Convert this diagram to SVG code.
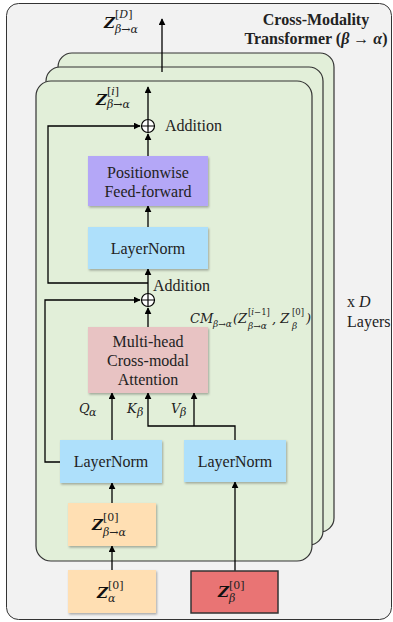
<svg xmlns="http://www.w3.org/2000/svg" width="393" height="622" viewBox="0 0 393 622">
<defs>
<marker id="ah" viewBox="0 0 10 10" refX="9" refY="5" markerWidth="7" markerHeight="7" orient="auto-start-reverse" markerUnits="userSpaceOnUse"><path d="M0,0 L10,5 L0,10 z" fill="#000"/></marker>
<filter id="sh" x="-10%" y="-10%" width="130%" height="140%"><feDropShadow dx="1" dy="1.5" stdDeviation="1" flood-color="#000" flood-opacity="0.3"/></filter>
<style>
.t{font-family:"Liberation Serif","Times New Roman",serif;font-size:16px;fill:#222;}
.tb{font-family:"Liberation Serif","Times New Roman",serif;font-size:16px;font-weight:bold;fill:#222;}
.m{font-family:"DejaVu Serif","Liberation Serif",serif;font-style:italic;font-size:13px;fill:#222;}
.zb{font-family:"DejaVu Serif","Liberation Serif",serif;font-style:italic;font-weight:bold;font-size:15px;fill:#111;}
.sup{font-style:normal;font-weight:normal;font-size:11px;fill:#222;}
.sub{font-style:italic;font-weight:normal;font-size:11px;fill:#222;}
.s9{font-size:9px;}
.s85{font-size:8.5px;}
.ln{stroke:#000;stroke-width:1.3;fill:none;}
.layer{fill:#e2efd9;stroke:#333;stroke-width:1.2;}
.box{filter:url(#sh);}
</style>
</defs>
<rect x="6.5" y="3.5" width="385" height="616" rx="12" fill="#f2f2f2" stroke="#333" stroke-width="1"/>
<g id="title">
<text class="tb" x="316" y="25" text-anchor="middle">Cross-Modality</text>
<text class="tb" x="316" y="44" text-anchor="middle">Transformer (<tspan font-style="italic">β</tspan> → <tspan font-style="italic">α</tspan>)</text>
</g>
<g id="layers">
<rect class="layer" x="58" y="53" width="276" height="479" rx="14"/>
<rect class="layer" x="46" y="67" width="277" height="478" rx="14"/>
<rect class="layer" x="36" y="81" width="276" height="480" rx="15"/>
</g>
<g id="connectors">
<line class="ln" x1="162" y1="72" x2="162" y2="19" marker-end="url(#ah)"/>
<line class="ln" x1="148" y1="119" x2="148" y2="87" marker-end="url(#ah)"/>
<polyline class="ln" points="148,283 48,283 48,126 140,126" marker-end="url(#ah)"/>
<line class="ln" x1="148" y1="156" x2="148" y2="134" marker-end="url(#ah)"/>
<line class="ln" x1="148" y1="227" x2="148" y2="206" marker-end="url(#ah)"/>
<line class="ln" x1="148" y1="293" x2="148" y2="269" marker-end="url(#ah)"/>
<polyline class="ln" points="60,462 45,462 45,300 140,300" marker-end="url(#ah)"/>
<line class="ln" x1="148" y1="327" x2="148" y2="308" marker-end="url(#ah)"/>
<line class="ln" x1="112" y1="440" x2="112" y2="393" marker-end="url(#ah)"/>
<polyline class="ln" points="235,440 235,426 148,426 148,393" marker-end="url(#ah)"/>
<line class="ln" x1="194" y1="426" x2="194" y2="393" marker-end="url(#ah)"/>
<line class="ln" x1="112" y1="503" x2="112" y2="483" marker-end="url(#ah)"/>
<line class="ln" x1="112" y1="570" x2="112" y2="546" marker-end="url(#ah)"/>
<line class="ln" x1="235" y1="571" x2="235" y2="482" marker-end="url(#ah)"/>
</g>
<g id="add1">
<circle cx="148" cy="126" r="6.5" fill="#fff" stroke="#000" stroke-width="1.2"/>
<path d="M141.5,126 H154.5 M148,119.5 V132.5" stroke="#000" stroke-width="1.2"/>
<text class="t" x="165" y="131">Addition</text>
</g>
<g id="add2">
<circle cx="148" cy="300" r="6.5" fill="#fff" stroke="#000" stroke-width="1.2"/>
<path d="M141.5,300 H154.5 M148,293.5 V306.5" stroke="#000" stroke-width="1.2"/>
<text class="t" x="153" y="291">Addition</text>
</g>
<g id="ff">
<rect class="box" x="88" y="156" width="120" height="50" fill="#b4a7f7"/>
<text class="t" x="148" y="178" text-anchor="middle">Positionwise</text>
<text class="t" x="148" y="197" text-anchor="middle">Feed-forward</text>
</g>
<g id="ln-top">
<rect class="box" x="88" y="227" width="120" height="42" fill="#aee0fb"/>
<text class="t" x="148" y="254" text-anchor="middle">LayerNorm</text>
</g>
<g id="mha">
<rect class="box" x="88" y="327" width="120" height="66" fill="#e8c3c3"/>
<text class="t" x="148" y="347" text-anchor="middle">Multi-head</text>
<text class="t" x="148" y="366" text-anchor="middle">Cross-modal</text>
<text class="t" x="148" y="385" text-anchor="middle">Attention</text>
</g>
<g id="ln-left">
<rect class="box" x="60" y="440" width="102" height="43" fill="#aee0fb"/>
<text class="t" x="111" y="467" text-anchor="middle">LayerNorm</text>
</g>
<g id="ln-right">
<rect class="box" x="184" y="440" width="102" height="42" fill="#aee0fb"/>
<text class="t" x="235" y="467" text-anchor="middle">LayerNorm</text>
</g>
<g id="z0ba">
<rect class="box" x="68" y="503" width="88" height="43" fill="#ffdfb3"/>
<text class="zb" x="92" y="530">Z<tspan class="sup" x="103" y="521">[0]</tspan><tspan class="sub" x="103" y="536">β→α</tspan></text>
</g>
<g id="za">
<rect class="box" x="68" y="570" width="88" height="43" fill="#ffdfb3"/>
<text class="zb" x="97" y="598">Z<tspan class="sup" x="108" y="589">[0]</tspan><tspan class="sub" x="108" y="602">α</tspan></text>
</g>
<g id="zb">
<rect x="191" y="571" width="87" height="42" fill="#e97474" stroke="#333" stroke-width="1.5"/>
<text class="zb" x="218" y="597">Z<tspan class="sup" x="229" y="589">[0]</tspan><tspan class="sub" x="229" y="602">β</tspan></text>
</g>
<g id="labels">
<text class="zb" x="104" y="28">Z<tspan class="sup" x="115" y="18">[<tspan font-style="italic">D</tspan>]</tspan><tspan class="sub" x="115" y="33">β→α</tspan></text>
<text class="zb" x="96" y="105">Z<tspan class="sup" x="107" y="95">[<tspan font-style="italic">i</tspan>]</tspan><tspan class="sub" x="107" y="108">β→α</tspan></text>
<text class="m" x="190" y="323">CM<tspan class="sub s9" x="213" y="327">β→α</tspan><tspan x="233" y="323">(Z</tspan><tspan class="sup s85" x="248" y="315">[<tspan font-style="italic">i</tspan>−1]</tspan><tspan class="sub s9" x="248" y="329">β→α</tspan><tspan x="272" y="323">, Z</tspan><tspan class="sup s85" x="292" y="315">[0]</tspan><tspan class="sub s9" x="292" y="329">β</tspan><tspan x="306" y="323">)</tspan></text>
<text class="m" x="79" y="413">Q<tspan class="sub" font-size="10" x="89" y="416">α</tspan></text>
<text class="m" x="127" y="413">K<tspan class="sub" font-size="10" x="137" y="416">β</tspan></text>
<text class="m" x="171" y="413">V<tspan class="sub" font-size="10" x="180" y="416">β</tspan></text>
<text class="t" x="347" y="307">x <tspan font-style="italic">D</tspan></text>
<text class="t" x="347" y="327">Layers</text>
</g>
</svg>
